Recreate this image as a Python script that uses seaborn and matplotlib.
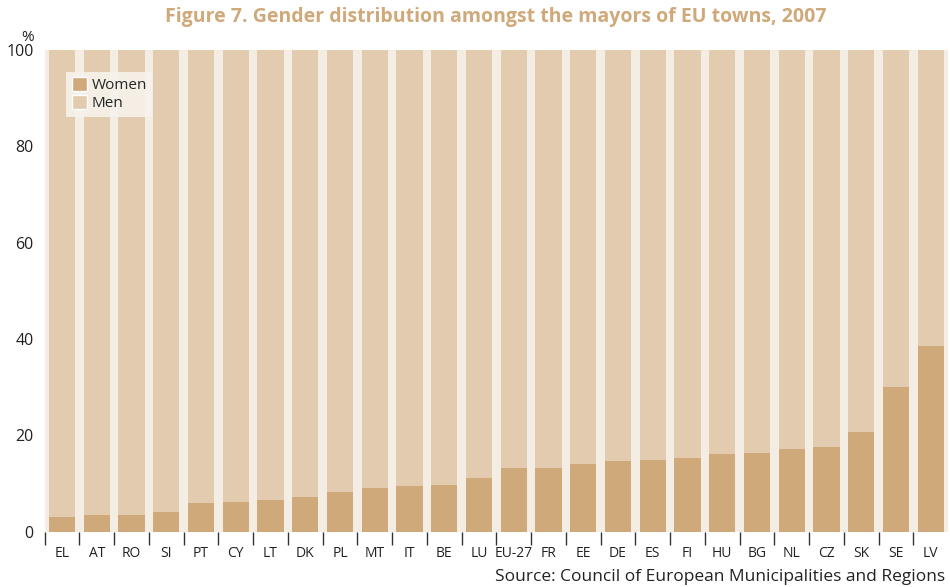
import numpy as np
import pandas as pd
import matplotlib
matplotlib.use("Agg")
import matplotlib.pyplot as plt
import seaborn as sns
from matplotlib.patches import Patch

# data
countries = ["EL", "AT", "RO", "SI", "PT", "CY", "LT", "DK", "PL", "MT", "IT", "BE", "LU",
             "EU-27", "FR", "EE", "DE", "ES", "FI", "HU", "BG", "NL", "CZ", "SK", "SE", "LV"]
women = [3.0, 3.5, 3.5, 4.2, 5.9, 6.1, 6.6, 7.3, 8.3, 9.0, 9.6, 9.8, 11.2,
         13.3, 13.3, 14.1, 14.7, 14.8, 15.4, 16.2, 16.4, 17.2, 17.6, 20.8, 30.0, 38.6]
men = [100 - w for w in women]

women_col = "#CFA97A"
men_col = "#E2CBAE"
bg_col = "#F4EDE4"

df = pd.DataFrame({"country": countries, "women": women, "men": men})
df["total"] = df["women"] + df["men"]

sns.set_theme(style="white")
plt.rcParams["font.family"] = ["Open Sans", "DejaVu Sans"]

fig = plt.figure(figsize=(9.5, 5.87), dpi=100)
ax = fig.add_axes([0.047, 0.094, 0.951, 0.821])
ax.set_facecolor(bg_col)

sns.barplot(data=df, x="country", y="total", color=men_col, width=0.76,
            saturation=1, linewidth=0, ax=ax)
sns.barplot(data=df, x="country", y="women", color=women_col, width=0.76,
            saturation=1, linewidth=0, ax=ax)

ax.set_ylim(0, 100)
ax.set_xlim(-0.5, len(countries) - 0.5)
ax.set_xlabel("")
ax.set_ylabel("")
for s in ax.spines.values():
    s.set_visible(False)

ax.set_yticks([0, 20, 40, 60, 80, 100])
ax.tick_params(axis="y", length=0, labelsize=11.5, colors="#222222", pad=8)
ax.tick_params(axis="x", which="major", length=0, labelsize=10, colors="#222222", pad=10)
ax.set_xticks(np.arange(len(countries)) - 0.5, minor=True)
ax.tick_params(axis="x", which="minor", length=9, width=1, color="#333333", pad=2)
ax.xaxis.set_ticks_position("bottom")

ax.text(-0.012, 1.01, "%", transform=ax.transAxes, ha="right", va="bottom",
        fontsize=11, color="#222222")

handles = [Patch(facecolor=women_col, label="Women"), Patch(facecolor=men_col, label="Men")]
leg = ax.legend(handles=handles, loc="upper left", bbox_to_anchor=(0.024, 0.955),
                borderaxespad=0, frameon=True, fancybox=False, fontsize=11,
                handlelength=1.0, handleheight=1.0, handletextpad=0.3,
                borderpad=0.35, labelspacing=0.15)
leg.get_frame().set_facecolor("#F7F2EB")
leg.get_frame().set_edgecolor("none")
leg.get_frame().set_alpha(0.9)

fig.text(0.522, 0.988, "Figure 7. Gender distribution amongst the mayors of EU towns, 2007",
         ha="center", va="top", fontsize=14, fontweight="bold", color=women_col)
fig.text(0.995, 0.004, "Source: Council of European Municipalities and Regions",
         ha="right", va="bottom", fontsize=12.5, color="#222222")

fig.savefig("out.png", dpi=100)
